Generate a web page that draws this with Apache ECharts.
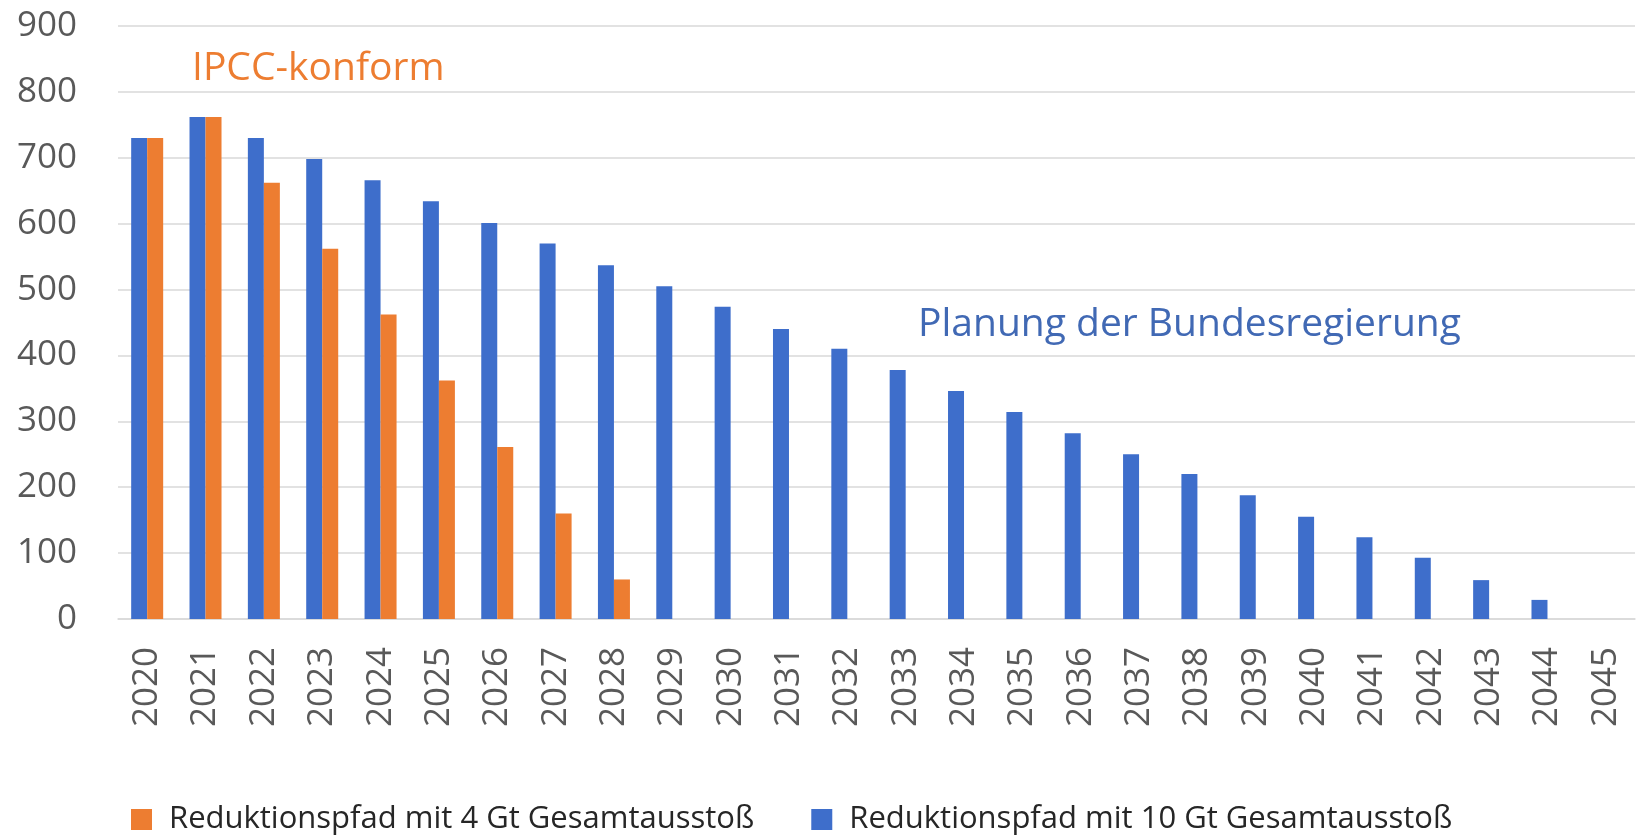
<!DOCTYPE html>
<html>
<head>
<meta charset="utf-8">
<script src="https://cdn.jsdelivr.net/npm/echarts@6/dist/echarts.min.js"></script>
<style>
html,body{margin:0;padding:0;background:#fff;}
#chart{width:1646px;height:836px;}
</style>
</head>
<body>
<div id="chart"></div>
<script>
const years = ['2020','2021','2022','2023','2024','2025','2026','2027','2028','2029','2030','2031','2032','2033','2034','2035','2036','2037','2038','2039','2040','2041','2042','2043','2044','2045'];
const blue10Gt = [730,762,730,698,666,634,601,570,537,505,474,440,410,378,346,314,282,250,220,188,155,124,93,59,29,0];
const orange4Gt = [730,762,662,562,462,362,261,160,60,null,null,null,null,null,null,null,null,null,null,null,null,null,null,null,null,null];
const yTicks = {min:0, max:900, interval:100};
const nameBlue = 'Reduktionspfad mit 10 Gt Gesamtausstoß';
const nameOrange = 'Reduktionspfad mit 4 Gt Gesamtausstoß';
const noteOrange = 'IPCC-konform';
const noteBlue = 'Planung der Bundesregierung';

const FONT = 'Open Sans';
const chart = echarts.init(document.getElementById('chart'));
chart.setOption({
  animation:false,
  backgroundColor:'#ffffff',
  grid:{left:118,right:11,top:26,bottom:217,containLabel:false},
  legend:{
    data:[nameOrange,nameBlue],
    left:126, top:799,
    itemWidth:21, itemHeight:21, itemGap:57,
    icon:'rect',
    textStyle:{fontFamily:FONT,fontSize:31,color:'#262626',lineHeight:30,padding:[0,0,0,12]}
  },
  xAxis:{
    type:'category', data:years,
    axisLine:{lineStyle:{color:'#D9D9D9',width:1.5}},
    axisTick:{show:false},
    axisLabel:{rotate:90,margin:28,fontFamily:FONT,fontSize:35,color:'#595959',interval:0}
  },
  yAxis:{
    type:'value', min:yTicks.min, max:yTicks.max, interval:yTicks.interval,
    axisLine:{show:false}, axisTick:{show:false},
    splitLine:{lineStyle:{color:'#D9D9D9',width:1.5}},
    axisLabel:{margin:41,fontFamily:FONT,fontSize:35,color:'#595959'}
  },
  series:[
    {name:nameBlue,type:'bar',data:blue10Gt,barWidth:16,barGap:'0%',itemStyle:{color:'#3E6ECB'}},
    {name:nameOrange,type:'bar',data:orange4Gt,barWidth:16,barGap:'0%',itemStyle:{color:'#ED7D31'}}
  ],
  graphic:[
    {type:'text',left:192,top:49,style:{text:noteOrange,fontFamily:FONT,fontSize:39,fill:'#ED7D31'}},
    {type:'text',left:918,top:305,style:{text:noteBlue,fontFamily:FONT,fontSize:39,fill:'#4169B4'}}
  ]
});
</script>
</body>
</html>
